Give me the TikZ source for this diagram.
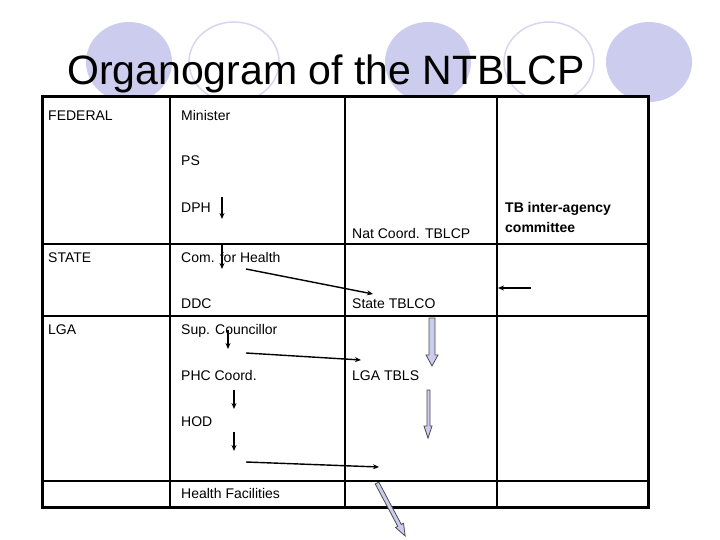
\documentclass[tikz,border=0pt]{standalone}
\usepackage{fontspec}
\setmainfont{Liberation Sans}
\usetikzlibrary{arrows.meta}
\definecolor{lav}{RGB}{204,204,238}
\begin{document}
\begin{tikzpicture}[x=1pt,y=-1pt,
	cell/.style={anchor=base west,inner sep=0pt,font=\fontsize{14}{16}\selectfont},
	thin arrow/.style={-{Stealth[length=6pt,width=5pt]},line width=1.4pt},
	block/.style={fill=lav,draw=black!70,line width=0.8pt}
	]
\useasboundingbox (0,0) rectangle (720,540);
% background circles
\fill[lav] (129,62) ellipse [x radius=43,y radius=40];
\draw[lav!80,line width=1.5pt] (234,62) ellipse [x radius=45,y radius=40];
\fill[lav] (428,62) ellipse [x radius=43,y radius=40];
\draw[lav!80,line width=1.5pt] (549,62) ellipse [x radius=45,y radius=40];
\fill[lav] (649,62) ellipse [x radius=43,y radius=40];
\node [anchor=base west,inner sep=0pt,font=\fontsize{41}{44}\selectfont] (title) at (67,85) {Organogram of the NTBLCP};
% table
\fill[white] (42,97) rectangle (648,507);
\draw[line width=1.5pt] (42,244) -- (648,244) (42,316) -- (648,316) (42,481) -- (648,481)
	(170,97) -- (170,507) (345,97) -- (345,507) (497,97) -- (497,507);
\draw[line width=3pt] (42,97) rectangle (648,507);
% cell texts
\node [cell] (fed) at (48,121) {FEDERAL};
\node [cell] (min) at (181,121) {Minister};
\node [cell] (ps) at (181,166) {PS};
\node [cell] (dph) at (181,212) {DPH};
\node [cell] (nat) at (352,238) {Nat Coord. TBLCP};
\node [cell,font=\bfseries\fontsize{14}{16}\selectfont] (tbi) at (505,213) {TB inter-agency};
\node [cell,font=\bfseries\fontsize{14}{16}\selectfont] (com) at (505,233) {committee};
\node [cell] (state) at (48,262) {STATE};
\node [cell] (cfh) at (181,262) {Com. for Health};
\node [cell] (ddc) at (181,308) {DDC};
\node [cell] (stb) at (352,308) {State TBLCO};
\node [cell] (lga) at (48,334) {LGA};
\node [cell] (sup) at (181,334) {Sup. Councillor};
\node [cell] (phc) at (181,380) {PHC Coord.};
\node [cell] (ltb) at (352,380) {LGA TBLS};
\node [cell] (hod) at (181,426) {HOD};
\node [cell] (hf) at (181,498) {Health Facilities};
% arrows
\draw[thin arrow] (222,197) -- (222,219);
\draw[thin arrow] (222,244) -- (222,269);
\draw[thin arrow] (246,269) -- (373,294);
\draw[thin arrow] (531,288) -- (498,288);
\draw[thin arrow] (228,330) -- (228,349);
\draw[thin arrow] (246,353) -- (361,360);
\draw[thin arrow] (234,390) -- (234,409);
\draw[thin arrow] (234,432) -- (234,451);
\draw[thin arrow] (246,462) -- (379,467);
% block arrows
\draw[block] (429,318) -- (435,318) -- (435,355) -- (438,355) -- (432,366) -- (426,355) -- (429,355) -- cycle;
\draw[block] (427,390) -- (430,390) -- (430,426) -- (432,426) -- (428,438) -- (424,426) -- (427,426) -- cycle;
\begin{scope}[shift={(377,483)},rotate=-62]
\draw[block] (0,-2) -- (48,-2) -- (48,-4.5) -- (60,0) -- (48,4.5) -- (48,2) -- (0,2) -- cycle;
\end{scope}
\end{tikzpicture}
\end{document}
